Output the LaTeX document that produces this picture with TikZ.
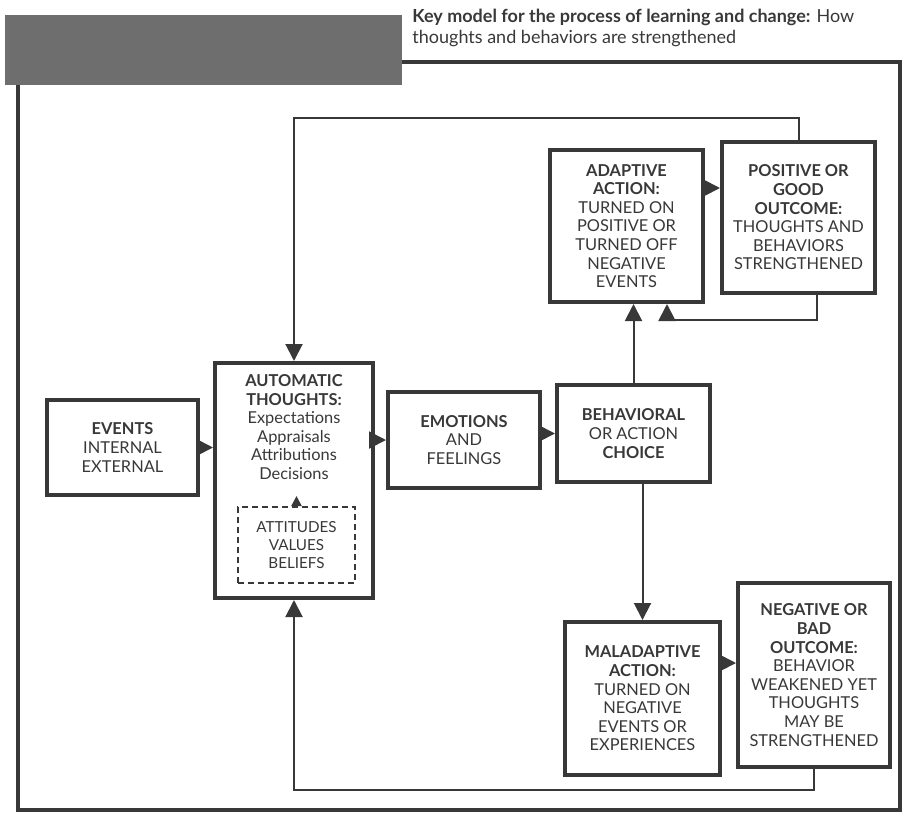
\documentclass[tikz,border=0pt]{standalone}
\usepackage{fontspec}
\setmainfont{Lato}
\usetikzlibrary{arrows.meta}
\definecolor{ink}{HTML}{383838}
\definecolor{barfill}{HTML}{6E6E6E}

\begin{document}
\begin{tikzpicture}[x=0.5pt,y=-0.5pt,
    box/.style={draw=ink,line width=2pt,align=center,inner sep=1pt,text=ink,
      font=\fontsize{8.2}{9.3}\selectfont},
    plain/.style={align=center,inner sep=1pt,text=ink,font=\fontsize{8.2}{9.3}\selectfont},
    dashbox/.style={draw=ink,line width=1pt,dash pattern=on 3pt off 2pt,align=center,
      inner sep=1pt,text=ink,font=\fontsize{7.6}{9.2}\selectfont},
    link/.style={draw=ink,line width=1pt,-{Triangle[length=8.5pt,width=8.5pt]}},
    frame/.style={draw=ink,line width=2pt}]

\useasboundingbox (0,0) rectangle (910,826);

\node[fill=barfill,minimum width=198.5pt,minimum height=35pt,inner sep=0pt] (figbar) at (203.5,50) {};
\node[anchor=north west,align=left,inner sep=0pt,text=ink,font=\fontsize{9}{10.3}\selectfont] (title) at (412,9)
  {\textbf{Key model for the process of learning and change:} How\\thoughts and behaviors are strengthened};
\draw[frame] (402,62) -- (900,62) -- (900,810) -- (18,810) -- (18,85);

\node[box,minimum width=75.5pt,minimum height=47.5pt] (events) at (122.5,447.5)
  {\textbf{EVENTS}\\INTERNAL\\EXTERNAL};
\node[box,minimum width=79pt,minimum height=117.5pt] (auto) at (294,480.5) {};
\node[plain,anchor=north] (autotext) at (294,372)
  {\textbf{AUTOMATIC}\\\textbf{THOUGHTS:}\\Expectations\\Appraisals\\Attributions\\Decisions};
\node[dashbox,minimum width=58.5pt,minimum height=38pt] (att) at (296.5,545)
  {ATTITUDES\\VALUES\\BELIEFS};
\node[box,minimum width=76pt,minimum height=48pt] (emotions) at (464,440)
  {\textbf{EMOTIONS}\\AND\\FEELINGS};
\node[box,minimum width=76.5pt,minimum height=48.5pt] (behav) at (633.5,433.5)
  {\textbf{BEHAVIORAL}\\OR ACTION\\\textbf{CHOICE}};
\node[box,minimum width=76.5pt,minimum height=76pt] (adaptive) at (626.5,226)
  {\textbf{ADAPTIVE}\\\textbf{ACTION:}\\TURNED ON\\POSITIVE OR\\TURNED OFF\\NEGATIVE\\EVENTS};
\node[box,minimum width=76.5pt,minimum height=75.5pt] (positive) at (798.5,217.5)
  {\textbf{POSITIVE OR}\\\textbf{GOOD}\\\textbf{OUTCOME:}\\THOUGHTS AND\\BEHAVIORS\\STRENGTHENED};
\node[box,minimum width=77.5pt,minimum height=76.5pt] (mal) at (642.5,698.5)
  {\textbf{MALADAPTIVE}\\\textbf{ACTION:}\\TURNED ON\\NEGATIVE\\EVENTS OR\\EXPERIENCES};
\node[box,minimum width=76pt,minimum height=92pt] (neg) at (814,675)
  {\textbf{NEGATIVE OR}\\\textbf{BAD}\\\textbf{OUTCOME:}\\BEHAVIOR\\WEAKENED YET\\THOUGHTS\\MAY BE\\STRENGTHENED};

\coordinate (toprun) at (0,118);
\coordinate (pdrop) at (817,320);
\coordinate (aup) at (667,320);
\coordinate (botrun) at (0,790);
\coordinate (apy) at (0,188);
\coordinate (mny) at (0,663);

\draw[link] (positive.north) -- (positive.north |- toprun) -| (auto.north);
\draw[link] (positive.south -| pdrop) -- (pdrop) -- (aup) -- (adaptive.south -| aup);
\draw[link] (behav.north) -- (behav.north |- adaptive.south);
\draw[link] (mal.north |- behav.south) -- (mal.north);
\draw[link] (neg.south) -- (neg.south |- botrun) -| (auto.south);

\draw[link] (events.east) -- (auto.west |- events.east);
\draw[link] (auto.east |- emotions.west) -- (emotions.west);
\draw[link] (emotions.east |- behav.west) -- (behav.west);
\draw[link] (adaptive.east |- apy) -- (positive.west |- apy);
\draw[link] (mal.east |- mny) -- (neg.west |- mny);
\draw[link,-{Triangle[length=5pt,width=5pt]}] (att.north) -- ++(0,-10);
\end{tikzpicture}
\end{document}
